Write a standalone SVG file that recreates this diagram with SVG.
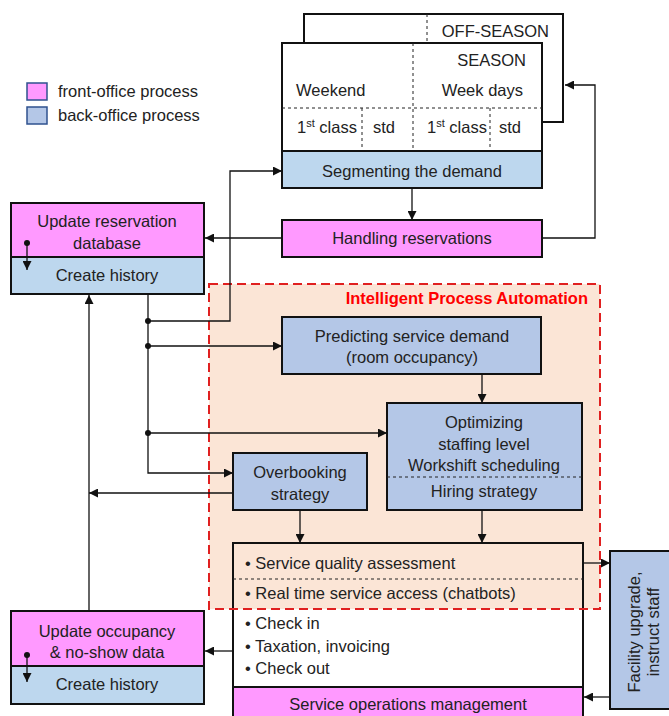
<svg xmlns="http://www.w3.org/2000/svg" width="669" height="716" viewBox="0 0 669 716">
<style>
text{font-family:"Liberation Sans",Arial,sans-serif;font-size:16.5px;fill:#222}
.c{text-anchor:middle}
.box{stroke:#111;stroke-width:2}
.front{fill:#FF99FF}
.back{fill:#B4C7E7}
.seg{fill:#BDD7EE}
.dash{stroke:#222;stroke-width:1;stroke-dasharray:3,3;fill:none}
.conn{stroke:#111;stroke-width:1.3;fill:none}
</style>
<defs>
<marker id="ah" viewBox="0 0 10 10" refX="10" refY="5" markerWidth="9" markerHeight="9" markerUnits="userSpaceOnUse" orient="auto">
<path d="M0,0 L10,5 L0,10 z" fill="#111"/>
</marker>
</defs>
<rect width="669" height="716" fill="#fff"/>

<g id="legend">
<rect x="27" y="83" width="20" height="17" fill="#FF99FF" stroke="#2F528F" stroke-width="1.5"/>
<text x="58" y="97">front-office process</text>
<rect x="27" y="107" width="20" height="17" fill="#B4C7E7" stroke="#2F528F" stroke-width="1.5"/>
<text x="58" y="121">back-office process</text>
</g>

<g id="ipa-region">
<rect x="209" y="284" width="391" height="325" fill="#FBE5D6"/>
</g>

<g id="segment-table">
<rect x="304" y="14" width="259" height="108" fill="#fff" class="box"/>
<line x1="427" y1="14" x2="427" y2="43" class="dash"/>
<text x="549" y="37" text-anchor="end">OFF-SEASON</text>
<rect x="282" y="43" width="260" height="108" fill="#fff" class="box"/>
<line x1="413" y1="43" x2="413" y2="151" class="dash"/>
<line x1="282" y1="108" x2="542" y2="108" class="dash"/>
<line x1="362" y1="108" x2="362" y2="151" class="dash"/>
<line x1="490" y1="108" x2="490" y2="151" class="dash"/>
<text x="526" y="66" text-anchor="end">SEASON</text>
<text x="296" y="96">Weekend</text>
<text x="523" y="96" text-anchor="end">Week days</text>
<text x="297" y="133">1<tspan font-size="11" dy="-6">st</tspan><tspan dy="6"> class</tspan></text>
<text x="373" y="133">std</text>
<text x="427" y="133">1<tspan font-size="11" dy="-6">st</tspan><tspan dy="6"> class</tspan></text>
<text x="499" y="133">std</text>
</g>

<g id="segmenting">
<rect x="282" y="151" width="260" height="37" class="box seg"/>
<text x="412" y="177" class="c">Segmenting the demand</text>
</g>

<g id="handling">
<rect x="282" y="220" width="260" height="37" class="box front"/>
<text x="412" y="244" class="c">Handling reservations</text>
</g>

<g id="update-reservation">
<rect x="11" y="203" width="193" height="54" class="box front"/>
<text x="107" y="227" class="c">Update reservation</text>
<text x="107" y="249" class="c">database</text>
<rect x="11" y="257" width="193" height="37" class="box seg"/>
<text x="107" y="281" class="c">Create history</text>
<circle cx="27" cy="243" r="3" fill="#111"/>
<line x1="27" y1="243" x2="27" y2="270" class="conn" marker-end="url(#ah)"/>
</g>

<g id="predicting">
<rect x="282" y="317" width="259" height="57" class="box back"/>
<text x="412" y="342" class="c">Predicting service demand</text>
<text x="412" y="363" class="c">(room occupancy)</text>
</g>

<g id="optimizing">
<rect x="387" y="403" width="195" height="107" class="box back"/>
<line x1="387" y1="477" x2="582" y2="477" class="dash"/>
<text x="484" y="428" class="c">Optimizing</text>
<text x="484" y="450" class="c">staffing level</text>
<text x="484" y="471" class="c">Workshift scheduling</text>
<text x="484" y="497" class="c">Hiring strategy</text>
</g>

<g id="overbooking">
<rect x="233" y="453" width="134" height="57" class="box back"/>
<text x="300" y="478" class="c">Overbooking</text>
<text x="300" y="500" class="c">strategy</text>
</g>

<g id="service">
<rect x="233" y="609" width="350" height="78" fill="#fff"/>
<rect x="233" y="543" width="350" height="173" fill="none" class="box"/>
<line x1="233" y1="579" x2="583" y2="579" class="dash"/>
<text x="245" y="569">• Service quality assessment</text>
<text x="245" y="599">• Real time service access (chatbots)</text>
<text x="245" y="629">• Check in</text>
<text x="245" y="652">• Taxation, invoicing</text>
<text x="245" y="674">• Check out</text>
<rect x="233" y="687" width="350" height="32" class="box front"/>
<text x="408" y="710" class="c">Service operations management</text>
</g>

<g id="ipa-border">
<rect x="209" y="284" width="391" height="325" fill="none" stroke="#E02020" stroke-width="2" stroke-dasharray="9,5"/>
<text x="588" y="304" text-anchor="end" font-weight="bold" style="fill:#FF0000">Intelligent Process Automation</text>
</g>

<g id="facility">
<rect x="610" y="551" width="62" height="158" class="box back"/>
<text transform="translate(640,632) rotate(-90)" class="c">Facility upgrade,</text>
<text transform="translate(659,632) rotate(-90)" class="c">instruct staff</text>
</g>

<g id="update-occupancy">
<rect x="11" y="611" width="193" height="55" class="box front"/>
<text x="107" y="637" class="c">Update occupancy</text>
<text x="107" y="658" class="c">&amp; no-show  data</text>
<rect x="11" y="666" width="193" height="38" class="box seg"/>
<text x="107" y="690" class="c">Create history</text>
<circle cx="27" cy="655" r="3" fill="#111"/>
<line x1="27" y1="655" x2="27" y2="682" class="conn" marker-end="url(#ah)"/>
</g>

<g id="connectors">
<line x1="412" y1="188" x2="412" y2="220" class="conn" marker-end="url(#ah)"/>
<path d="M542,238 H595 V85 H565" class="conn" marker-end="url(#ah)"/>
<line x1="282" y1="238" x2="205" y2="238" class="conn" marker-end="url(#ah)"/>
<path d="M148,294 V473 H233" class="conn" marker-end="url(#ah)"/>
<path d="M148,321 H230 V171 H282" class="conn" marker-end="url(#ah)"/>
<line x1="148" y1="346" x2="282" y2="346" class="conn" marker-end="url(#ah)"/>
<line x1="148" y1="433" x2="387" y2="433" class="conn" marker-end="url(#ah)"/>
<circle cx="148" cy="321" r="3" fill="#111"/>
<circle cx="148" cy="346" r="3" fill="#111"/>
<circle cx="148" cy="433" r="3" fill="#111"/>
<line x1="482" y1="374" x2="482" y2="403" class="conn" marker-end="url(#ah)"/>
<line x1="233" y1="493" x2="89" y2="493" class="conn" marker-end="url(#ah)"/>
<line x1="89" y1="611" x2="89" y2="295" class="conn" marker-end="url(#ah)"/>
<line x1="300" y1="510" x2="300" y2="543" class="conn" marker-end="url(#ah)"/>
<line x1="482" y1="510" x2="482" y2="543" class="conn" marker-end="url(#ah)"/>
<line x1="583" y1="563" x2="610" y2="563" class="conn" marker-end="url(#ah)"/>
<line x1="610" y1="697" x2="584" y2="697" class="conn" marker-end="url(#ah)"/>
<line x1="233" y1="651" x2="205" y2="651" class="conn" marker-end="url(#ah)"/>
</g>
</svg>
